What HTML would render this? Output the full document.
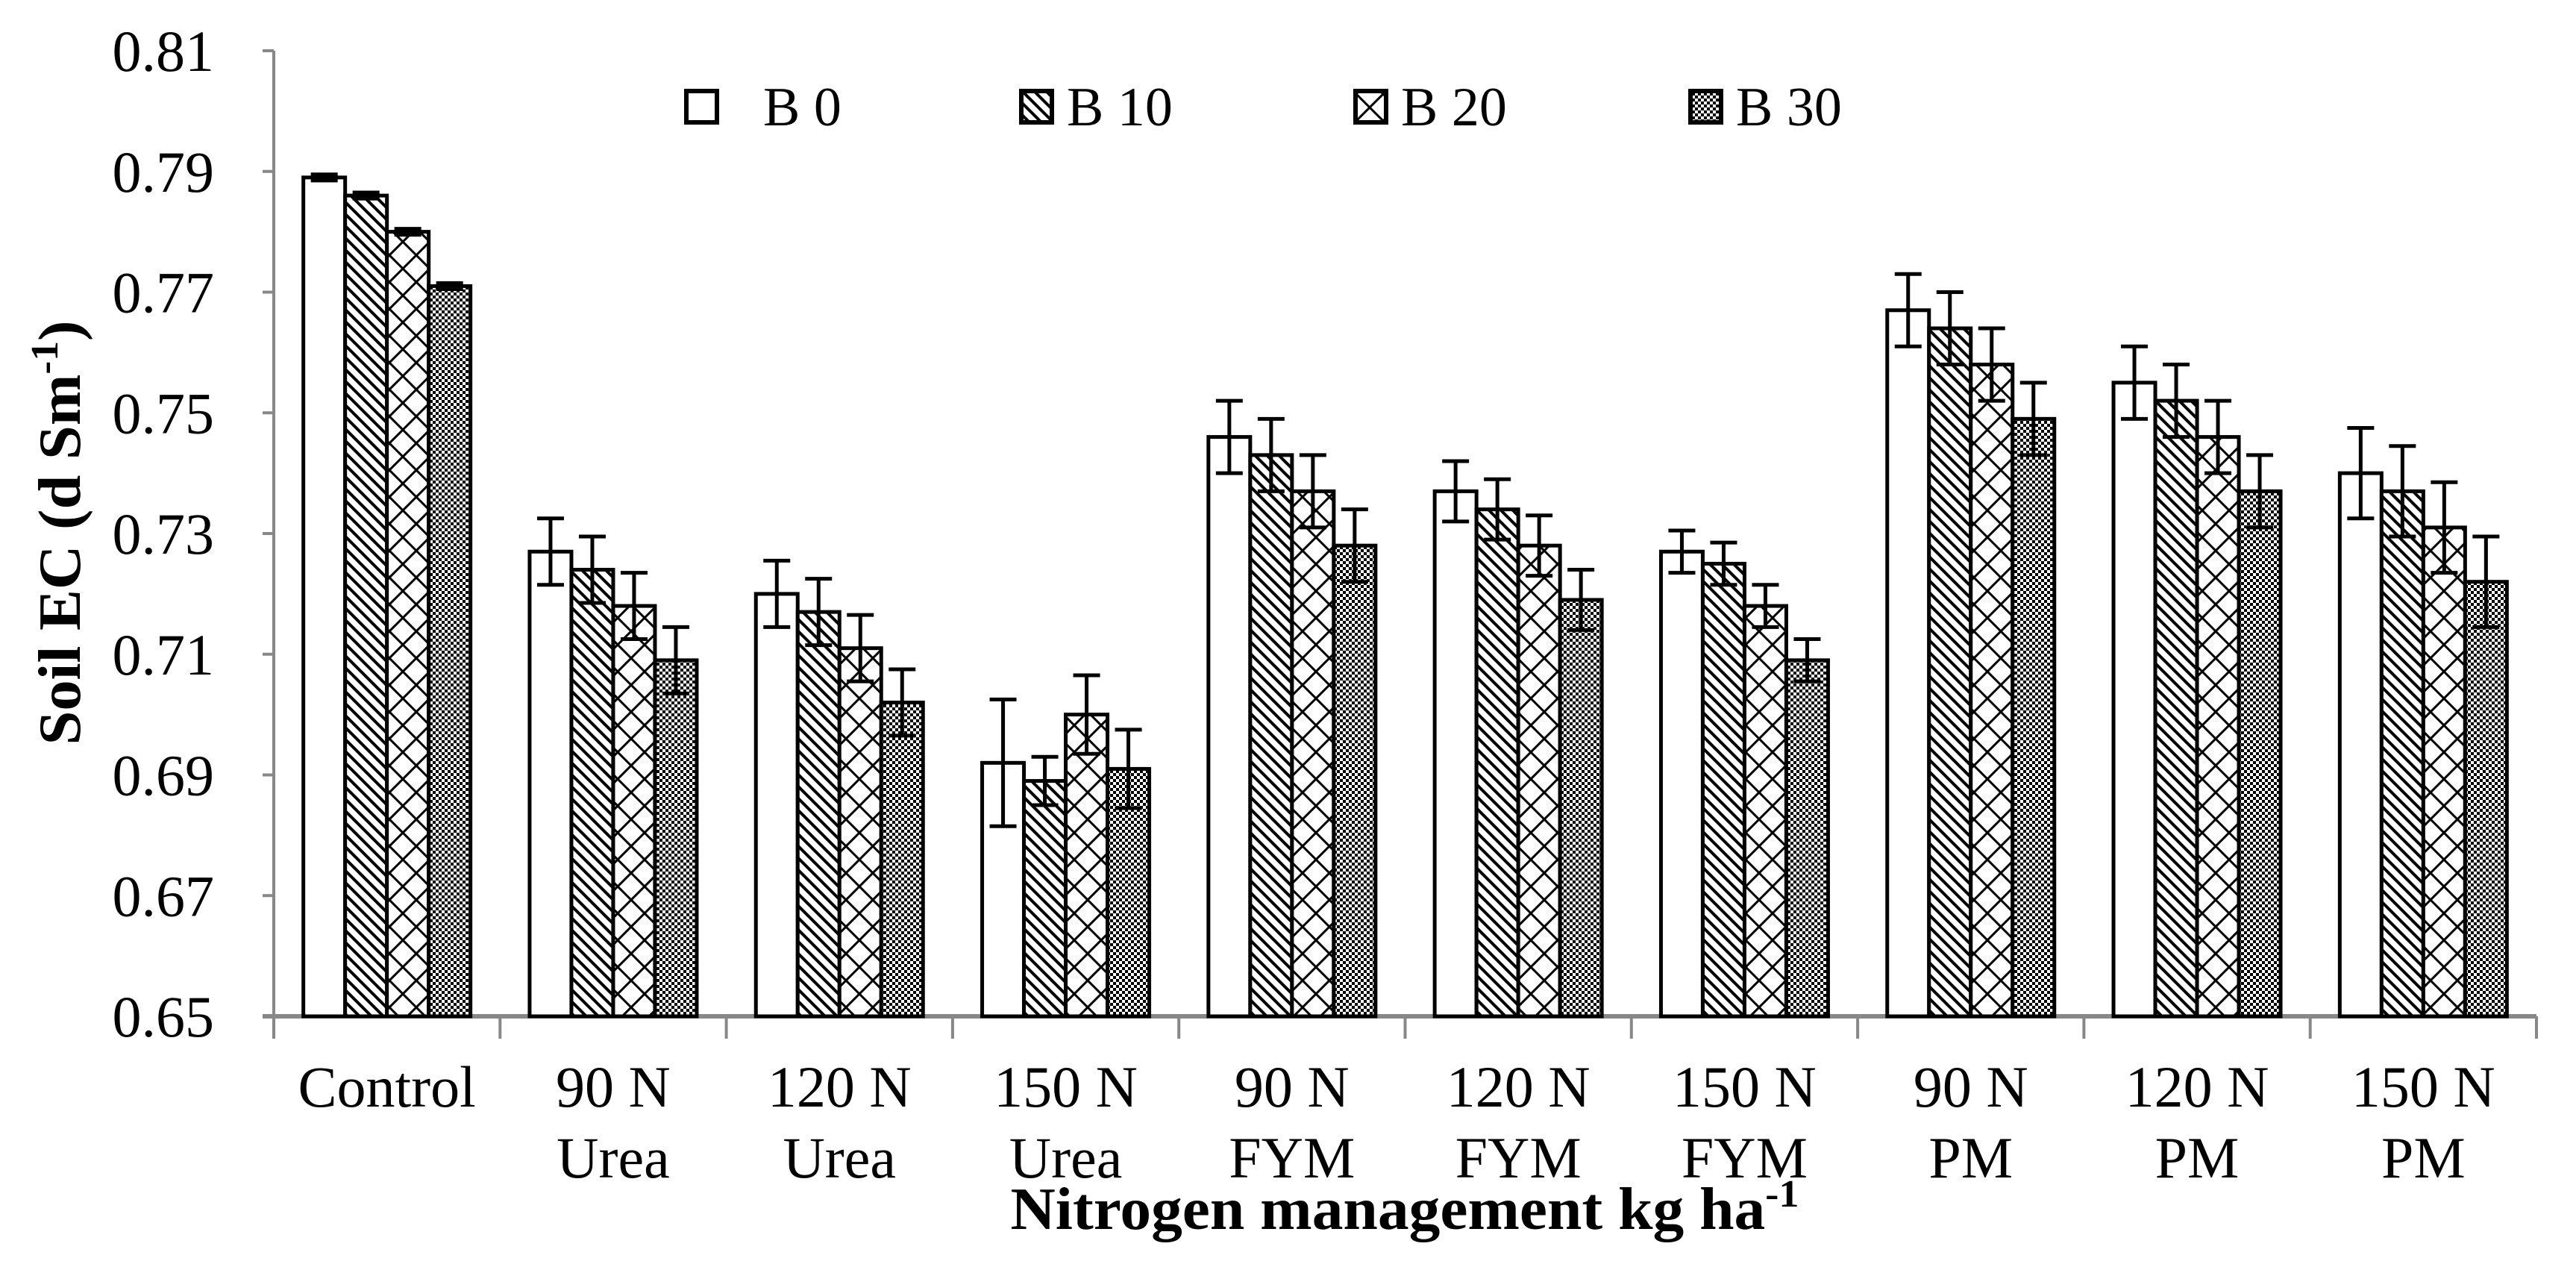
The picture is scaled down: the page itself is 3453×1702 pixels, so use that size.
<!DOCTYPE html>
<html><head><meta charset="utf-8"><style>
html,body{margin:0;padding:0;background:#fff;}
svg{display:block;font-family:"Liberation Serif",serif;}
</style></head><body>
<svg id="chart" width="3453" height="1702" viewBox="0 0 3453 1702">
<defs>
<pattern id="p10" patternUnits="userSpaceOnUse" width="16" height="16">
<rect width="16" height="16" fill="#fff"/>
<path d="M-4,-4 L20,20 M-4,12 L4,20 M12,-4 L20,4" stroke="#000" stroke-width="4"/>
</pattern>
<pattern id="p20" patternUnits="userSpaceOnUse" width="36" height="36">
<rect width="36" height="36" fill="#fff"/>
<path d="M0,0 L36,36 M36,0 L0,36" stroke="#000" stroke-width="3"/>
</pattern>
<pattern id="p30" patternUnits="userSpaceOnUse" width="8" height="8">
<rect width="8" height="8" fill="#fff"/>
<rect width="4" height="4" fill="#000"/><rect x="4" y="4" width="4" height="4" fill="#000"/>
</pattern>
</defs>
<g id="axes"></g>
<g id="bars"></g>
<g id="legend"></g>
<text x="1883" y="1647" font-size="80" font-weight="bold" text-anchor="middle" textLength="1057" lengthAdjust="spacingAndGlyphs">Nitrogen management kg ha<tspan font-size="52" dy="-30">-1</tspan></text>
<text transform="translate(107,714) rotate(-90)" font-size="80" font-weight="bold" text-anchor="middle" textLength="569" lengthAdjust="spacingAndGlyphs">Soil EC (d Sm<tspan font-size="52" dy="-30">-1</tspan><tspan dy="30">)</tspan></text>
</svg>
<script>
const categoriesLine1 = ["Control","90 N","120 N","150 N","90 N","120 N","150 N","90 N","120 N","150 N"];
const categoriesLine2 = ["","Urea","Urea","Urea","FYM","FYM","FYM","PM","PM","PM"];
const seriesNames = ["B 0","B 10","B 20","B 30"];
const b0 = [0.789,0.727,0.720,0.692,0.746,0.737,0.727,0.767,0.755,0.740];
const b10 = [0.786,0.724,0.717,0.689,0.743,0.734,0.725,0.764,0.752,0.737];
const b20 = [0.780,0.718,0.711,0.700,0.737,0.728,0.718,0.758,0.746,0.731];
const b30 = [0.771,0.709,0.702,0.691,0.728,0.719,0.709,0.749,0.737,0.722];
const e0 = [0.0005,0.0055,0.0055,0.0105,0.006,0.005,0.0035,0.006,0.006,0.0075];
const e10 = [0.0005,0.0055,0.0055,0.004,0.006,0.005,0.0035,0.006,0.006,0.0075];
const e20 = [0.0005,0.0055,0.0055,0.0065,0.006,0.005,0.0035,0.006,0.006,0.0075];
const e30 = [0.0005,0.0055,0.0055,0.0065,0.006,0.005,0.0035,0.006,0.006,0.0075];
const yTicks = ["0.65","0.67","0.69","0.71","0.73","0.75","0.77","0.79","0.81"];

const NS="http://www.w3.org/2000/svg";
const X0=367, X1=3400, Y0=1362, Y1=68, VMIN=0.65, VMAX=0.81;
const yS=v=>Y0-(v-VMIN)/(VMAX-VMIN)*(Y0-Y1);
const gw=(X1-X0)/categoriesLine1.length;
const xS=i=>X0+i*gw;
function mk(tag,attrs,parent){const e=document.createElementNS(NS,tag);for(const k in attrs)e.setAttribute(k,attrs[k]);parent.appendChild(e);return e;}
const axes=document.getElementById('axes'), bars=document.getElementById('bars'), legend=document.getElementById('legend');
const GR="#888";
let a=mk('line',{x1:X0,y1:Y1,x2:X0,y2:Y0,stroke:GR,'stroke-width':4},axes);


a=mk('line',{x1:X0-15,y1:Y0,x2:X1,y2:Y0,stroke:GR,'stroke-width':6},axes);


yTicks.forEach(t=>{
 const y=yS(parseFloat(t));
 const l=mk('line',{x1:X0-15,y1:y,x2:X0,y2:y,stroke:GR,'stroke-width':4},axes);
 
 
 const tx=mk('text',{x:287,y:y+27,'font-size':78,'text-anchor':'end'},axes);
 tx.textContent=t;
 
 
});
for(let i=0;i<=categoriesLine1.length;i++){
 const l=mk('line',{x1:xS(i),y1:Y0,x2:xS(i),y2:Y0+30,stroke:GR,'stroke-width':4},axes);
 
 
}
categoriesLine1.forEach((c,i)=>{
 const cx=xS(i)+gw/2;
 const t=mk('text',{x:cx,y:1483,'font-size':78,'text-anchor':'middle'},axes);
 t.textContent=c;
 
 
 if(categoriesLine2[i]){
  const t2=mk('text',{x:cx,y:1578,'font-size':78,'text-anchor':'middle'},axes);
  t2.textContent=categoriesLine2[i];
  
  
 }
});
const series=[b0,b10,b20,b30], errs=[e0,e10,e20,e30];
const fills=["#fff","url(#p10)","url(#p20)","url(#p30)"];
const bw=56, pad=(gw-4*bw)/2;
series.forEach((s,k)=>{
 s.forEach((v,i)=>{
  const x=xS(i)+pad+k*bw, y=yS(v);
  const r=mk('rect',{x:x,y:y,width:bw,height:Y0-y,fill:fills[k],stroke:'#000','stroke-width':5},bars);
  
  
  const cx=x+bw/2, yt=yS(v+errs[k][i]), yb=yS(v-errs[k][i]);
  const p=mk('path',{d:`M${cx},${yt}V${yb}M${cx-18},${yt}H${cx+18}M${cx-18},${yb}H${cx+18}`,stroke:'#000','stroke-width':5,fill:'none'},bars);
  
  
 });
});
const legX=[917,1366,1814,2263];
seriesNames.forEach((n,k)=>{
 const r=mk('rect',{x:legX[k]+3,y:122,width:41,height:42,fill:fills[k],stroke:'#000','stroke-width':6},legend);
 
 
 const t=mk('text',{x:legX[k]+(k===0?106:64),y:168,'font-size':74},legend);
 t.textContent=n;
 
 
});
</script>
</body></html>
